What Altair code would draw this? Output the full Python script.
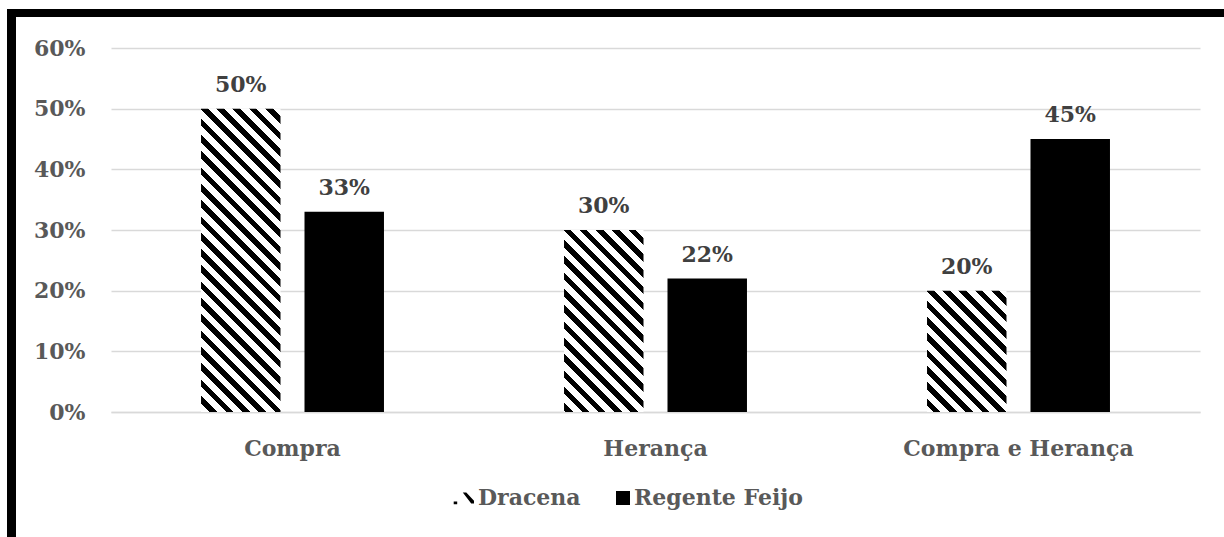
import math
import altair as alt
import pandas as pd

# ---- data ----
categories = ["Compra", "Herança", "Compra e Herança"]
series = ["Dracena", "Regente Feijo"]
dracena = [0.50, 0.30, 0.20]
regente = [0.33, 0.22, 0.45]
y_ticks = [0.0, 0.1, 0.2, 0.3, 0.4, 0.5, 0.6]

rows = []
for c, d, r in zip(categories, dracena, regente):
    rows.append({"Categoria": c, "Série": series[0], "Valor": d})
    rows.append({"Categoria": c, "Série": series[1], "Valor": r})
df = pd.DataFrame(rows)

# ---- layout ----
W, H = 1089, 364
Y_MAX = 0.6
X_PAD_INNER, X_PAD_OUTER = 0.0, 0.0
O_PAD_INNER, O_PAD_OUTER = 0.232, 0.87
FONT = "DejaVu Serif"
FS = 22
GRAY = "#595959"
GRID = "#d9d9d9"

band = W / (len(categories) - X_PAD_INNER + 2 * X_PAD_OUTER)
o_step = band / (len(series) - O_PAD_INNER + 2 * O_PAD_OUTER)
bar_w = o_step * (1 - O_PAD_INNER)


def stripe_fill(w, h, period=16.3, frac=0.47, phase=-1.0):
    """Diagonal '\\' hatch as a hard-stop linear gradient (bbox units)."""
    total = w + h
    stops = [alt.GradientStop(offset=0.0, color="white")]
    k0 = math.floor((-h - phase) / period) - 1
    k1 = math.ceil((w - phase) / period) + 1
    for k in range(k0, k1 + 1):
        a = phase + k * period
        b = a + frac * period
        a, b = max(a, -h), min(b, w)
        if b <= a:
            continue
        oa, ob = round((a + h) / total, 5), round((b + h) / total, 5)
        stops += [
            alt.GradientStop(offset=oa, color="white"),
            alt.GradientStop(offset=oa, color="black"),
            alt.GradientStop(offset=ob, color="black"),
            alt.GradientStop(offset=ob, color="white"),
        ]
    stops.append(alt.GradientStop(offset=1.0, color="white"))
    t = (w + h) / (w * w + h * h)
    return alt.LinearGradient(
        gradient="linear", stops=stops,
        x1=0, y1=1, x2=round(t * w, 6), y2=round(1 - t * h, 6),
    )


base = alt.Chart(df).encode(
    x=alt.X(
        "Categoria:N",
        scale=alt.Scale(domain=categories, paddingInner=X_PAD_INNER, paddingOuter=X_PAD_OUTER),
        axis=alt.Axis(
            title=None, labelAngle=0, ticks=False, domainColor=GRID, domainWidth=1.5,
            labelBaseline="alphabetic", labelPadding=43, labelLimit=400,
        ),
    ),
    xOffset=alt.XOffset(
        "Série:N",
        scale=alt.Scale(domain=series, paddingInner=O_PAD_INNER, paddingOuter=O_PAD_OUTER),
    ),
    y=alt.Y(
        "Valor:Q",
        scale=alt.Scale(domain=[0, Y_MAX], nice=False),
        axis=alt.Axis(
            title=None, values=y_ticks, format=".0%", domain=False, ticks=False,
            labelPadding=26, gridColor=GRID, gridWidth=1.5,
        ),
    ),
)

layers = []
# Regente Feijo: solid black bars
layers.append(
    base.transform_filter(alt.datum["Série"] == series[1]).mark_bar(color="black")
)
# Dracena: hatched bars, one layer per bar so the hatch angle stays at 45°
for c, v in zip(categories, dracena):
    h = v / Y_MAX * H
    layers.append(
        base.transform_filter(
            (alt.datum["Série"] == series[0]) & (alt.datum["Categoria"] == c)
        ).mark_bar(fill=stripe_fill(bar_w, h))
    )

labels = base.mark_text(
    baseline="alphabetic", dy=-17, font=FONT, fontSize=FS, fontWeight="bold", color="#404040"
).encode(text=alt.Text("Valor:Q", format=".0%"))
layers.append(labels)

dracena_symbol = (
    "M-0.6,-0.8L-0.1,-0.8L1,0.4L1,0.8L0.6,0.8Z"
    "M-1.9,0.5L-1.4,0.5L-1.4,0.9L-1.9,0.9Z"
)
legend_layer = base.mark_point(filled=True, color="black", opacity=0).encode(
    shape=alt.Shape(
        "Série:N",
        scale=alt.Scale(domain=series, range=[dracena_symbol, "square"]),
        legend=alt.Legend(
            title=None, orient="none", direction="horizontal", legendX=345, legendY=439,
            padding=0, symbolSize=196, symbolOpacity=1, symbolFillColor="black",
            symbolStrokeWidth=0, labelFont=FONT, labelFontSize=FS, labelFontWeight="bold",
            labelColor=GRAY, labelOffset=0, columnPadding=31, labelLimit=400,
        ),
    )
)
layers.append(legend_layer)

frame = alt.Chart(alt.Data(values=[{}]))
top_border = frame.mark_rule(color="black", strokeWidth=8).encode(
    x=alt.value(-104), x2=alt.value(1113), y=alt.value(-35)
)
left_border = frame.mark_rule(color="black", strokeWidth=9).encode(
    x=alt.value(-99.5), y=alt.value(-39), y2=alt.value(489)
)
layers += [top_border, left_border]

chart = (
    alt.layer(*layers)
    .properties(
        width=W, height=H,
        autosize=alt.AutoSizeParams(type="none"),
        padding={"left": 111, "top": 48, "right": 24, "bottom": 125},
        background="white",
    )
    .configure_view(strokeWidth=0)
    .configure_axis(
        labelFont=FONT, labelFontSize=FS, labelFontWeight="bold", labelColor=GRAY,
    )
)

chart.save("out.html", embed_options={"renderer": "svg", "actions": False})
